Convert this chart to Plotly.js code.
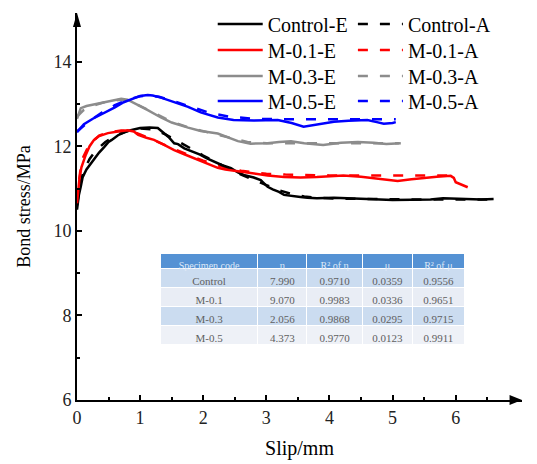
<!DOCTYPE html>
<html>
<head>
<meta charset="utf-8">
<script src="https://cdn.plot.ly/plotly-3.0.1.min.js"></script>
<style>html,body{margin:0;padding:0;background:#fff;}#chart{width:537px;height:464px;}</style>
</head>
<body>
<div id="chart"></div>
<script>
// ---- data ----
const controlE_x = [0,0.03,0.06,0.09,0.15,0.2,0.27,0.35,0.43,0.5,0.55,0.65,0.75,0.85,1.0,1.15,1.28,1.35,1.45,1.54,1.6,1.7,1.85,1.95,2.05,2.17,2.3,2.44,2.55,2.64,2.8,2.91,3.02,3.1,3.2,3.28,3.4,3.54,3.65,3.8,4.07,4.3,4.6,5.0,5.3,5.6,5.8,6.0,6.2,6.4,6.6];
const controlE_y = [10.5,10.85,11.05,11.27,11.45,11.55,11.67,11.85,11.98,12.1,12.15,12.26,12.33,12.38,12.43,12.44,12.43,12.35,12.22,12.07,12.05,11.95,11.86,11.8,11.72,11.63,11.55,11.48,11.38,11.32,11.26,11.2,11.04,10.98,10.92,10.85,10.82,10.8,10.78,10.77,10.78,10.76,10.75,10.73,10.73,10.74,10.77,10.76,10.74,10.74,10.75];
const controlA_x = [0,0.05,0.1,0.2,0.3,0.45,0.6,0.8,1.0,1.2,1.4,1.6,1.8,2.0,2.2,2.4,2.6,2.8,3.0,3.2,3.4,3.6,3.8,4.2,4.6,5.0,5.5,6.0,6.5];
const controlA_y = [10.6,11.1,11.4,11.7,11.9,12.1,12.25,12.36,12.42,12.4,12.28,12.12,11.95,11.78,11.62,11.47,11.33,11.2,11.08,10.96,10.87,10.81,10.78,10.76,10.75,10.74,10.74,10.74,10.74];

const m01E_x = [0,0.02,0.04,0.07,0.1,0.14,0.2,0.27,0.35,0.49,0.65,0.8,0.9,0.97,1.1,1.22,1.38,1.54,1.7,1.85,1.96,2.1,2.23,2.35,2.48,2.7,2.85,3.02,3.28,3.54,3.8,4.07,4.22,4.5,4.8,5.08,5.3,5.49,5.7,5.92,5.97,6.0,6.1,6.19];
const m01E_y = [10.65,10.95,11.25,11.5,11.65,11.8,12.0,12.15,12.24,12.31,12.35,12.38,12.35,12.27,12.2,12.15,12.03,11.91,11.81,11.72,11.64,11.56,11.49,11.45,11.42,11.37,11.34,11.31,11.27,11.26,11.27,11.3,11.31,11.28,11.22,11.18,11.22,11.25,11.28,11.3,11.25,11.15,11.09,11.03];
const m01A_x = [0,0.05,0.1,0.2,0.35,0.5,0.7,0.85,1.0,1.2,1.4,1.6,1.8,2.0,2.2,2.4,2.6,2.8,3.0,3.3,3.6,4.0,4.5,5.0,5.5,6.03];
const m01A_y = [10.7,11.4,11.75,12.05,12.25,12.33,12.37,12.36,12.28,12.15,12.02,11.89,11.77,11.66,11.56,11.48,11.42,11.38,11.35,11.33,11.32,11.31,11.31,11.31,11.31,11.31];

const m03E_x = [0,0.03,0.06,0.15,0.3,0.43,0.55,0.7,0.8,0.97,1.1,1.33,1.5,1.76,1.96,2.23,2.4,2.55,2.75,3.02,3.2,3.39,3.6,3.9,4.18,4.45,4.7,4.9,5.13];
const m03E_y = [12.65,12.78,12.9,12.95,13.0,13.04,13.08,13.12,13.1,12.98,12.87,12.68,12.56,12.44,12.36,12.3,12.2,12.12,12.06,12.07,12.1,12.12,12.07,12.03,12.08,12.1,12.08,12.05,12.07];
const m03A_x = [0,0.1,0.3,0.5,0.7,0.9,1.1,1.3,1.5,1.8,2.1,2.4,2.7,3.0,3.5,4.0,4.5,5.1];
const m03A_y = [12.7,12.85,12.98,13.07,13.1,13.02,12.88,12.72,12.58,12.43,12.32,12.2,12.1,12.07,12.07,12.07,12.07,12.07];

const m05E_x = [0,0.11,0.25,0.43,0.6,0.74,0.9,1.0,1.12,1.2,1.33,1.5,1.76,1.96,2.23,2.48,2.8,3.18,3.4,3.59,3.75,4.07,4.3,4.6,4.75,4.86,5.0,5.05];
const m05E_y = [12.33,12.52,12.65,12.78,12.92,13.04,13.13,13.19,13.21,13.2,13.15,13.06,12.93,12.8,12.68,12.62,12.61,12.62,12.55,12.46,12.5,12.58,12.6,12.62,12.57,12.53,12.55,12.57];
const m05A_x = [0,0.2,0.4,0.6,0.8,1.0,1.15,1.3,1.5,1.8,2.1,2.4,2.8,3.2,3.6,4.0,4.5,5.05];
const m05A_y = [12.35,12.6,12.8,12.97,13.1,13.18,13.2,13.17,13.08,12.93,12.79,12.7,12.65,12.64,12.64,12.64,12.64,12.64];

const tableHeader = ['Specimen code','η','R² of η','μ','R² of μ'];
const specimenCodes = ['Control','M-0.1','M-0.3','M-0.5'];
const etaValues = ['7.990','9.070','2.056','4.373'];
const etaR2 = ['0.9710','0.9983','0.9868','0.9770'];
const muValues = ['0.0359','0.0336','0.0295','0.0123'];
const muR2 = ['0.9556','0.9651','0.9715','0.9911'];

const xTicks = [0,1,2,3,4,5,6];
const xMinor = [0.5,1.5,2.5,3.5,4.5,5.5,6.5];
const yTicks = [6,8,10,12,14];
const yMinor = [7,9,11,13];

// ---- styling ----
const FONT = 'Liberation Serif';
const LW = 2.5;
const DASH = '10px,12px';
function tr(x, y, name, color, dashed, legend) {
  return {x: x, y: y, name: name, type: 'scatter', mode: 'lines',
    line: {color: color, width: LW, dash: dashed ? DASH : 'solid'},
    legend: legend, showlegend: true, hoverinfo: 'skip'};
}
const traces = [
  tr(controlA_x, controlA_y, 'Control-A', '#000000', true, 'legend5'),
  tr(m01A_x, m01A_y, 'M-0.1-A', '#ff0000', true, 'legend6'),
  tr(m03A_x, m03A_y, 'M-0.3-A', '#8c8c8c', true, 'legend7'),
  tr(m05A_x, m05A_y, 'M-0.5-A', '#0000ff', true, 'legend8'),
  tr(controlE_x, controlE_y, 'Control-E', '#000000', false, 'legend'),
  tr(m01E_x, m01E_y, 'M-0.1-E', '#ff0000', false, 'legend2'),
  tr(m03E_x, m03E_y, 'M-0.3-E', '#8c8c8c', false, 'legend3'),
  tr(m05E_x, m05E_y, 'M-0.5-E', '#0000ff', false, 'legend4')
];

traces.push({
  type: 'table',
  domain: {x: [0.187, 0.872], y: [0.138, 0.378]},
  columnwidth: [98, 49, 56, 50, 52],
  header: {values: tableHeader, fill: {color: '#5592d4'}, line: {color: '#ffffff', width: 1},
    font: {family: FONT, size: 10, color: '#dfe9f7'}, align: 'center', height: 15},
  cells: {values: [specimenCodes, etaValues, etaR2, muValues, muR2],
    fill: {color: [['#cbdcf0','#e9edf5','#cbdcf0','#eef1f7']]},
    line: {color: '#ffffff', width: 1},
    font: {family: FONT, size: 11, color: '#606060'}, align: 'center', height: 19}
});

const axisCommon = {showgrid: false, zeroline: false, showline: true, linecolor: '#000', linewidth: 2,
  ticks: 'inside', ticklen: 5, tickwidth: 2, tickcolor: '#000', mirror: false,
  tickfont: {family: FONT, size: 18, color: '#222'}};

function leg(x, py) {
  return {x: x, xanchor: 'left', y: (400 - py) / 387, yanchor: 'middle', bgcolor: 'rgba(0,0,0,0)',
    font: {family: FONT, size: 20, color: '#000'}, itemwidth: 45, tracegroupgap: 0};
}
const rowsPx = [24, 50, 76, 101];

const layout = {
  width: 537, height: 464,
  margin: {l: 77, r: 15, t: 13, b: 64, autoexpand: false},
  paper_bgcolor: '#fff', plot_bgcolor: '#fff',
  font: {family: FONT, color: '#000'},
  showlegend: true,
  xaxis: Object.assign({}, axisCommon, {range: [0, 7.05], tickmode: 'array', tickvals: xTicks,
    minor: {tickmode: 'array', tickvals: xMinor, ticks: 'inside', ticklen: 3, tickwidth: 2, tickcolor: '#000'},
    title: {text: 'Slip/mm', font: {family: FONT, size: 20, color: '#000'}, standoff: 14}}),
  yaxis: Object.assign({}, axisCommon, {range: [6, 15.15], tickmode: 'array', tickvals: yTicks,
    minor: {tickmode: 'array', tickvals: yMinor, ticks: 'inside', ticklen: 3, tickwidth: 2, tickcolor: '#000'},
    title: {text: 'Bond stress/MPa', font: {family: FONT, size: 18, color: '#000'}, standoff: 18}}),
  legend: leg(0.305, rowsPx[0]),
  legend2: leg(0.305, rowsPx[1]),
  legend3: leg(0.305, rowsPx[2]),
  legend4: leg(0.305, rowsPx[3]),
  legend5: leg(0.62, rowsPx[0]),
  legend6: leg(0.62, rowsPx[1]),
  legend7: leg(0.62, rowsPx[2]),
  legend8: leg(0.62, rowsPx[3]),
  shapes: [
    {type: 'path', xref: 'paper', yref: 'paper', path: 'M 1 0 L 0.972 0.0129 L 0.972 -0.0129 Z', fillcolor: '#000', line: {width: 0}},
    {type: 'path', xref: 'paper', yref: 'paper', path: 'M 0 1 L -0.009 0.964 L 0.009 0.964 Z', fillcolor: '#000', line: {width: 0}}
  ]
};

Plotly.newPlot('chart', traces, layout, {staticPlot: true, displayModeBar: false});
</script>
</body>
</html>
